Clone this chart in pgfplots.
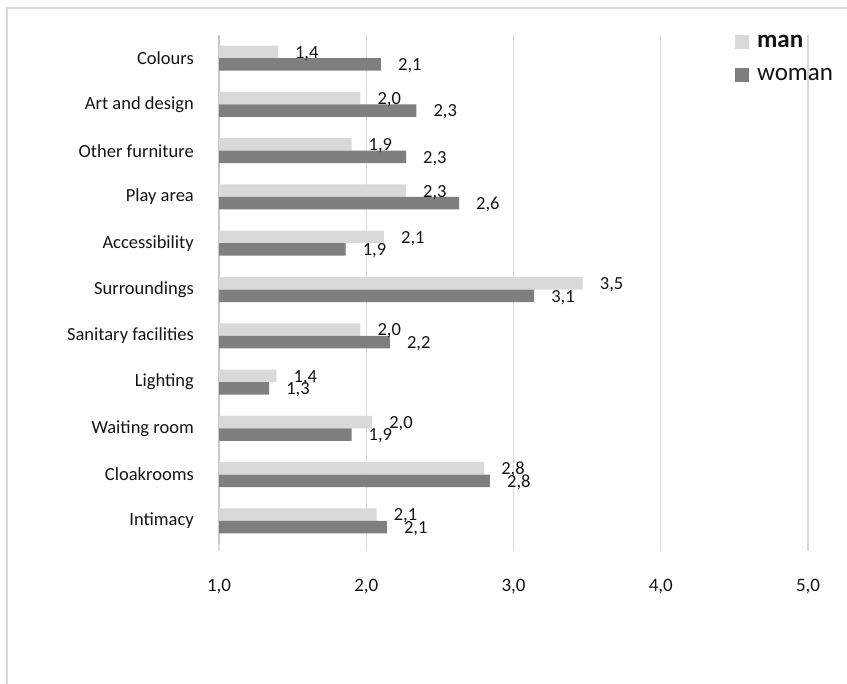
\documentclass[border=0pt]{standalone}
\usepackage{fontspec}
\setmainfont{Carlito}
\usepackage{pgfplots}
\pgfplotsset{compat=1.18}
\usepackage{pgfplotstable}

\definecolor{manfill}{HTML}{D9D9D9}
\definecolor{womanfill}{HTML}{7F7F7F}
\definecolor{gridgray}{HTML}{D9D9D9}
\definecolor{framegray}{HTML}{D9D9D9}
\definecolor{axisgray}{HTML}{C8C8C8}
\definecolor{txt}{HTML}{141414}

% mean ratings per aspect, index 0 = bottom row
\pgfplotstableread{
idx man  woman
0   2.07 2.14
1   2.80 2.84
2   2.04 1.90
3   1.39 1.34
4   1.96 2.16
5   3.47 3.14
6   2.12 1.86
7   2.27 2.63
8   1.90 2.27
9   1.96 2.34
10  1.40 2.10
}\ratings

\begin{document}
\begin{tikzpicture}[x=1bp,y=1bp]
\draw[framegray, line width=1.5bp] (7,-900) -- (7,-8) -- (900,-8);
\begin{axis}[
  at={(219bp,-35bp)}, anchor=north west,
  scale only axis, width=589bp, height=509bp,
  xmin=1, xmax=5, ymin=-0.5, ymax=10.5,
  xbar, bar width=12.5bp,
  axis x line*=bottom, axis y line*=left,
  x axis line style={draw=none},
  y axis line style={draw=axisgray, line width=1.2bp},
  xmajorgrids, grid style={draw=gridgray, line width=1.2bp},
  xtick={1,2,3,4,5},
  xticklabels={{1,0},{2,0},{3,0},{4,0},{5,0}},
  tick align=outside, major tick length=7bp,
  xtick style={draw=gridgray, line width=1.2bp},
  ytick={0,...,10},
  yticklabels={Intimacy, Cloakrooms\ , Waiting room, Lighting, Sanitary facilities, Surroundings, Accessibility, Play area, Other furniture, Art and design, Colours},
  ytick style={draw=none},
  yticklabel style={font=\fontsize{18.5bp}{20bp}\selectfont, text=txt, inner sep=0pt, xshift=-18bp},
  xticklabel style={font=\fontsize{19bp}{21bp}\selectfont, text=txt, inner sep=0pt, yshift=-28bp},
  /pgf/number format/.cd, use comma, fixed, fixed zerofill, precision=1, assume math mode=true,
  /pgfplots/.cd,
  nodes near coords,
  nodes near coords align={horizontal},
  every node near coord/.append style={font=\fontsize{18.5bp}{20bp}\selectfont, text=txt, inner sep=0pt, xshift=17bp, yshift=-1.5bp},
  legend style={draw=none, fill=none, at={(0.876,1.004)}, anchor=north west,
    font=\fontsize{25bp}{30bp}\selectfont, text=txt, inner sep=0pt, row sep=15bp},
  legend cell align=left,
  legend image code/.code={\fill[#1] (0bp,-7bp) rectangle (14bp,7bp); \path (20bp,0bp);},
]
\addplot[fill=manfill, draw=none, bar shift=6.25bp] table[x=man, y=idx] {\ratings};
\addplot[fill=womanfill, draw=none, bar shift=-6.25bp] table[x=woman, y=idx] {\ratings};
\legend{\textbf{man}, woman}
\end{axis}
\pgfresetboundingbox
\path (0,0) rectangle (847,-684);
\end{tikzpicture}
\end{document}
